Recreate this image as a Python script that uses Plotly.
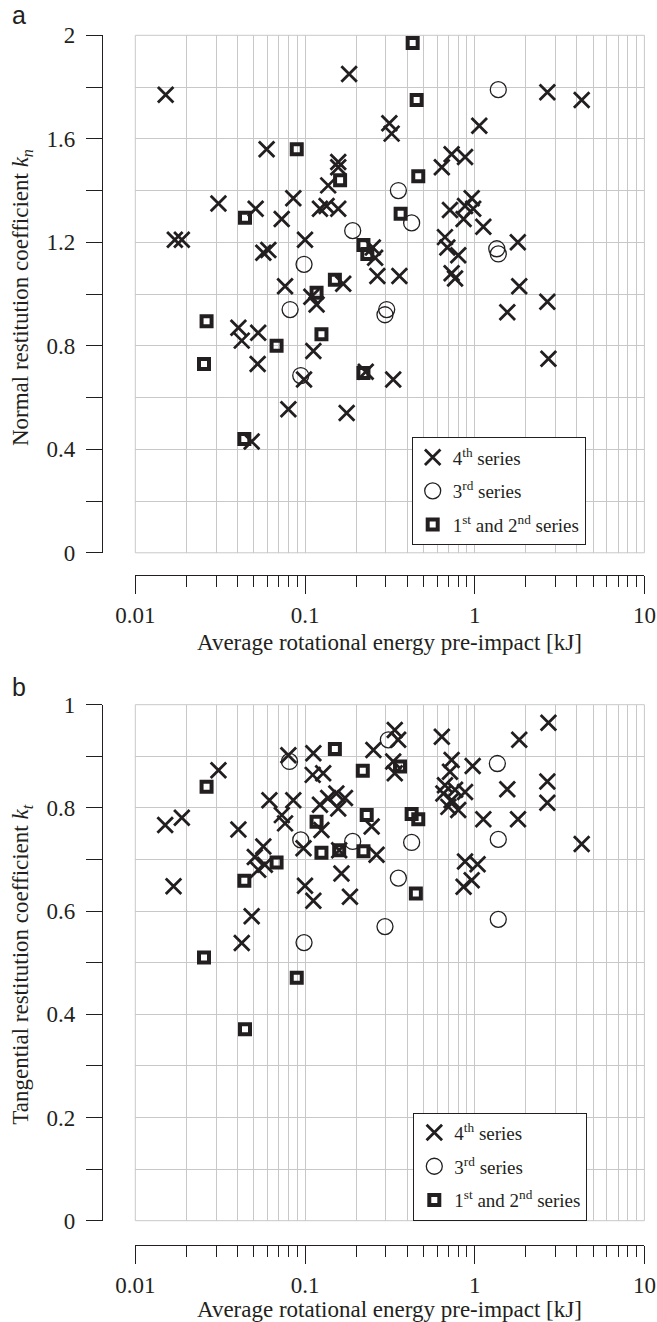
import plotly.graph_objects as go

W, H = 657, 1322
INK = '#231f20'
GRID = '#c8c8c8'
SERIF = 'Liberation Serif'

# ---------------- data: panel a (normal restitution coefficient) ----------------
a4_x = [0.0151, 0.182, 0.314, 0.324, 0.0594, 0.157, 0.157, 0.137, 0.0309, 0.0512,
        0.0729, 0.0853, 0.1225, 0.134, 0.157, 0.0171, 0.0188, 0.0568, 0.0608, 0.100,
        0.251, 0.259, 0.267, 0.360, 0.0763, 0.168, 0.109, 0.117, 0.0405, 0.0424,
        0.053, 0.112, 0.0526, 0.0987, 0.228, 0.331, 0.0798, 0.176, 0.0485, 2.68,
        4.27, 1.064, 0.64, 0.731, 0.877, 0.96, 0.715, 0.877, 0.98, 0.86,
        1.124, 0.668, 0.69, 0.80, 1.795, 0.731, 0.766, 1.83, 1.556, 2.68, 2.72]
a4_y = [1.77, 1.85, 1.66, 1.62, 1.56, 1.51, 1.49, 1.42, 1.35, 1.33,
        1.29, 1.37, 1.33, 1.34, 1.33, 1.21, 1.21, 1.16, 1.17, 1.21,
        1.18, 1.14, 1.07, 1.07, 1.03, 1.04, 0.99, 0.96, 0.87, 0.82,
        0.85, 0.78, 0.73, 0.67, 0.70, 0.67, 0.555, 0.54, 0.43, 1.78,
        1.75, 1.65, 1.49, 1.54, 1.53, 1.37, 1.325, 1.34, 1.33, 1.29,
        1.26, 1.22, 1.18, 1.15, 1.20, 1.08, 1.06, 1.03, 0.93, 0.97, 0.75]

a3_x = [0.355, 0.191, 0.0987, 0.0817, 0.303, 0.296, 0.0944, 1.377, 0.425, 1.349, 1.377]
a3_y = [1.40, 1.245, 1.115, 0.94, 0.94, 0.92, 0.685, 1.79, 1.275, 1.175, 1.155]

a12_x = [0.0894, 0.161, 0.0443, 0.221, 0.233, 0.150, 0.117, 0.0263, 0.068, 0.125,
         0.0254, 0.221, 0.0439, 0.431, 0.455, 0.465, 0.366]
a12_y = [1.56, 1.44, 1.295, 1.19, 1.155, 1.055, 1.005, 0.895, 0.80, 0.845,
         0.73, 0.695, 0.44, 1.97, 1.75, 1.455, 1.31]

# ---------------- data: panel b (tangential restitution coefficient) ----------------
b4_x = [0.0309, 0.0150, 0.0188, 0.0405, 0.0798, 0.112, 0.253, 0.338, 0.354, 0.111,
        0.128, 0.331, 0.338, 0.0617, 0.0853, 0.1225, 0.137, 0.153, 0.172, 0.157,
        0.073, 0.0763, 0.125, 0.247, 0.098, 0.0568, 0.0506, 0.053, 0.058, 0.159,
        0.264, 0.164, 0.0168, 0.100, 0.112, 0.184, 0.0485, 0.0424, 2.72, 1.83,
        0.64, 0.731, 0.973, 0.715, 0.668, 0.654, 0.766, 0.877, 0.731, 0.70,
        0.80, 1.556, 2.68, 2.68, 1.124, 1.80, 4.27, 0.877, 1.04, 0.86, 0.96]
b4_y = [0.873, 0.767, 0.781, 0.758, 0.902, 0.906, 0.912, 0.951, 0.932, 0.864,
        0.867, 0.890, 0.867, 0.815, 0.815, 0.806, 0.819, 0.828, 0.819, 0.799,
        0.786, 0.770, 0.757, 0.764, 0.722, 0.725, 0.705, 0.680, 0.690, 0.718,
        0.709, 0.673, 0.648, 0.649, 0.620, 0.628, 0.590, 0.538, 0.965, 0.932,
        0.938, 0.893, 0.881, 0.870, 0.844, 0.828, 0.835, 0.831, 0.815, 0.802,
        0.796, 0.836, 0.851, 0.810, 0.778, 0.778, 0.730, 0.696, 0.691, 0.647, 0.660]

b3_x = [0.081, 0.31, 0.0944, 0.191, 0.355, 1.36, 0.425, 1.377, 1.377, 0.296, 0.0987]
b3_y = [0.890, 0.932, 0.738, 0.735, 0.664, 0.886, 0.733, 0.739, 0.584, 0.570, 0.539]

b12_x = [0.0263, 0.150, 0.219, 0.363, 0.117, 0.231, 0.068, 0.125, 0.159, 0.221,
         0.0439, 0.425, 0.465, 0.45, 0.0254, 0.0894, 0.0443]
b12_y = [0.841, 0.914, 0.872, 0.880, 0.773, 0.786, 0.694, 0.713, 0.718, 0.716,
         0.659, 0.788, 0.778, 0.634, 0.510, 0.471, 0.371]

# ---------------- ticks ----------------
x_major = [0.01, 0.1, 1, 10]
x_major_text = ['0.01', '0.1', '1', '10']
x_minor = [round(m * 10 ** e, 4) for e in (-2, -1, 0) for m in range(2, 10)]

ya_major = [0, 0.4, 0.8, 1.2, 1.6, 2]
ya_text = ['0', '0.4', '0.8', '1.2', '1.6', '2']
ya_minor = [0.2, 0.6, 1.0, 1.4, 1.8]
yb_major = [0, 0.2, 0.4, 0.6, 0.8, 1]
yb_text = ['0', '0.2', '0.4', '0.6', '0.8', '1']
yb_minor = [0.1, 0.3, 0.5, 0.7, 0.9]

names = ['4<sup>th</sup> series', '3<sup>rd</sup> series', '1<sup>st</sup> and 2<sup>nd</sup> series']

# ---------------- geometry (pixels) ----------------
PX_L, PX_R = 135.3, 644.4
A_T, A_B = 35.3, 552.8
B_T, B_B = 704.7, 1220.7
YAX_X = 102
A_XAX_Y = 574.6
B_XAX_Y = 1244.6


def fx(px):
    return px / W


def fy(py):
    return 1 - py / H


fig = go.Figure()

x_style = dict(mode='markers', marker=dict(symbol='x-thin', size=15.5, color=INK,
                                          line=dict(width=2.8, color=INK)))
o_style = dict(mode='markers', marker=dict(symbol='circle-open', size=16, color=INK,
                                          line=dict(width=1.3, color=INK)))
s_style = dict(mode='markers', marker=dict(symbol='square-open', size=10, color=INK,
                                          line=dict(width=4, color=INK)))

for xa, ya, lg, data in [('x', 'y', 'legend', (a12_x, a12_y, a3_x, a3_y, a4_x, a4_y)),
                         ('x2', 'y2', 'legend2', (b12_x, b12_y, b3_x, b3_y, b4_x, b4_y))]:
    sx, sy, ox, oy, cx, cy = data
    fig.add_trace(go.Scatter(x=sx, y=sy, name=names[2], legendgroup=lg + 's', legend=lg,
                             legendrank=3, xaxis=xa, yaxis=ya, **s_style))
    fig.add_trace(go.Scatter(x=ox, y=oy, name=names[1], legendgroup=lg + 'o', legend=lg,
                             legendrank=2, xaxis=xa, yaxis=ya, **o_style))
    fig.add_trace(go.Scatter(x=cx, y=cy, name=names[0], legendgroup=lg + 'x', legend=lg,
                             legendrank=1, xaxis=xa, yaxis=ya, **x_style))

tickfont = dict(family=SERIF, size=23, color=INK)


def xcfg(pos):
    return dict(type='log', range=[-2, 1], domain=[fx(PX_L), fx(PX_R)], anchor='free',
                position=pos, showline=True, linecolor=INK, linewidth=1.3,
                ticks='outside', ticklen=18, tickwidth=1.3, tickcolor=INK,
                tickmode='array', tickvals=x_major, ticktext=x_major_text,
                showgrid=True, gridcolor=GRID, gridwidth=1, zeroline=False,
                tickfont=tickfont, ticklabelstandoff=2, automargin=False,
                minor=dict(tickmode='array', tickvals=x_minor, ticks='outside', ticklen=11,
                           tickwidth=1.3, tickcolor=INK, showgrid=True, gridcolor=GRID,
                           gridwidth=1))


def ycfg(dom, rng, major, text, minor):
    return dict(range=rng, domain=dom, anchor='free', position=fx(YAX_X),
                showline=True, linecolor=INK, linewidth=1.3,
                ticks='outside', ticklen=16, tickwidth=1.3, tickcolor=INK,
                tickmode='array', tickvals=major, ticktext=text,
                showgrid=True, gridcolor=GRID, gridwidth=1, zeroline=False,
                tickfont=tickfont, ticklabelstandoff=6, automargin=False,
                minor=dict(tickmode='array', tickvals=minor, ticks='outside', ticklen=16,
                           tickwidth=1.3, tickcolor=INK, showgrid=True, gridcolor=GRID,
                           gridwidth=1))


legend_common = dict(bgcolor='white', bordercolor=INK, borderwidth=1,
                     font=dict(family=SERIF, size=19, color=INK),
                     traceorder='grouped', tracegroupgap=6,
                     xanchor='left', yanchor='top', itemsizing='trace')

fig.update_layout(
    width=W, height=H, margin=dict(l=0, r=0, t=0, b=0),
    paper_bgcolor='white', plot_bgcolor='white',
    xaxis=xcfg(fy(A_XAX_Y)),
    xaxis2=xcfg(fy(B_XAX_Y)),
    yaxis=ycfg([fy(A_B), fy(A_T)], [0, 2], ya_major, ya_text, ya_minor),
    yaxis2=ycfg([fy(B_B), fy(B_T)], [0, 1], yb_major, yb_text, yb_minor),
    legend=dict(x=fx(411.7), y=fy(437.3), **legend_common),
    legend2=dict(x=fx(413.3), y=fy(1112.7), **legend_common),
    showlegend=True,
)

# light grey frame round each grid
for xr, yr in [('x domain', 'y domain'), ('x2 domain', 'y2 domain')]:
    fig.add_shape(type='rect', xref=xr, yref=yr, x0=0, x1=1, y0=0, y1=1,
                  line=dict(color=GRID, width=1), layer='below')

titlefont = dict(family=SERIF, size=23, color=INK)
ann = [
    dict(text='Normal restitution coefficient <i>k<sub>n</sub></i>', x=fx(22), y=fy((A_T + A_B) / 2 + 4),
         textangle=-90),
    dict(text='Tangential restitution coefficient <i>k<sub>t</sub></i>', x=fx(22), y=fy((B_T + B_B) / 2 + 2),
         textangle=-90),
    dict(text='Average rotational energy pre-impact [kJ]', x=fx((PX_L + PX_R) / 2), y=fy(642)),
    dict(text='Average rotational energy pre-impact [kJ]', x=fx((PX_L + PX_R) / 2), y=fy(1309)),
]
for a in ann:
    fig.add_annotation(xref='paper', yref='paper', showarrow=False, xanchor='center',
                       yanchor='middle', font=titlefont, **a)

for lbl, py in [('a', 15), ('b', 687)]:
    fig.add_annotation(text=lbl, xref='paper', yref='paper', x=fx(10), y=fy(py),
                       xanchor='left', yanchor='middle', showarrow=False,
                       font=dict(family='Liberation Sans', size=25, color=INK))

fig.write_html('out.html')
